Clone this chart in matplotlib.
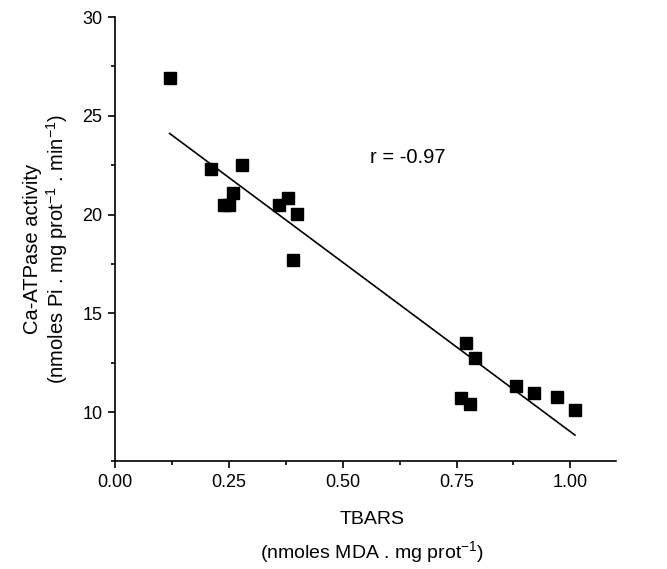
import numpy as np
import matplotlib
matplotlib.use("Agg")
import matplotlib.pyplot as plt
from matplotlib.ticker import MultipleLocator, FormatStrFormatter

plt.rcParams['font.family'] = ['Liberation Sans', 'DejaVu Sans']
plt.rcParams['mathtext.fontset'] = 'custom'
plt.rcParams['mathtext.rm'] = 'Liberation Sans'

tbars = [0.12, 0.21, 0.24, 0.25, 0.26, 0.28, 0.36, 0.38, 0.40, 0.39,
         0.77, 0.79, 0.76, 0.78, 0.88, 0.92, 0.97, 1.01]
atpase = [26.9, 22.3, 20.5, 20.5, 21.1, 22.5, 20.5, 20.85, 20.05, 17.7,
          13.5, 12.75, 10.7, 10.4, 11.3, 10.95, 10.75, 10.1]
r_text = "r = -0.97"

x = np.array(tbars)
y = np.array(atpase)
slope, intercept = np.polyfit(x, y, 1)
xl = np.array([x.min(), x.max()])

fig = plt.figure(figsize=(6.67, 5.69), dpi=100)
ax = fig.add_axes([0.1724, 0.189, 0.751, 0.781])

ax.plot(xl, slope * xl + intercept, color='black', lw=1.2)
ax.plot(x, y, linestyle='none', marker='s', markersize=8.5, color='black')

ax.set_xlim(0, 1.10)
ax.set_ylim(7.5, 30)
ax.spines['top'].set_visible(False)
ax.spines['right'].set_visible(False)
for s in ['left', 'bottom']:
    ax.spines[s].set_linewidth(1.2)

ax.xaxis.set_major_locator(MultipleLocator(0.25))
ax.xaxis.set_minor_locator(MultipleLocator(0.125))
ax.xaxis.set_major_formatter(FormatStrFormatter('%.2f'))
ax.yaxis.set_major_locator(MultipleLocator(5))
ax.yaxis.set_minor_locator(MultipleLocator(2.5))
ax.tick_params(which='major', direction='out', length=5, width=1.2, labelsize=13, pad=4)
ax.tick_params(which='minor', direction='out', length=3, width=1.2)

ax.text(0.56, 22.9, r_text, fontsize=14.5, va='center', ha='left')

sup = "$^{\\mathregular{-1}}$"
fig.text(372 / 667, 1 - 520 / 569, "TBARS", fontsize=14, ha='center', va='center')
fig.text(372 / 667, 1 - 553 / 569, "(nmoles MDA . mg prot" + sup + ")",
         fontsize=14, ha='center', va='center')
fig.text(33 / 667, 1 - 249 / 569, "Ca-ATPase activity", fontsize=14.5,
         ha='center', va='center', rotation=90)
fig.text(57 / 667, 1 - 249 / 569, "(nmoles Pi . mg prot" + sup + " . min" + sup + ")",
         fontsize=14.5, ha='center', va='center', rotation=90)

fig.savefig("out.png", dpi=100)
